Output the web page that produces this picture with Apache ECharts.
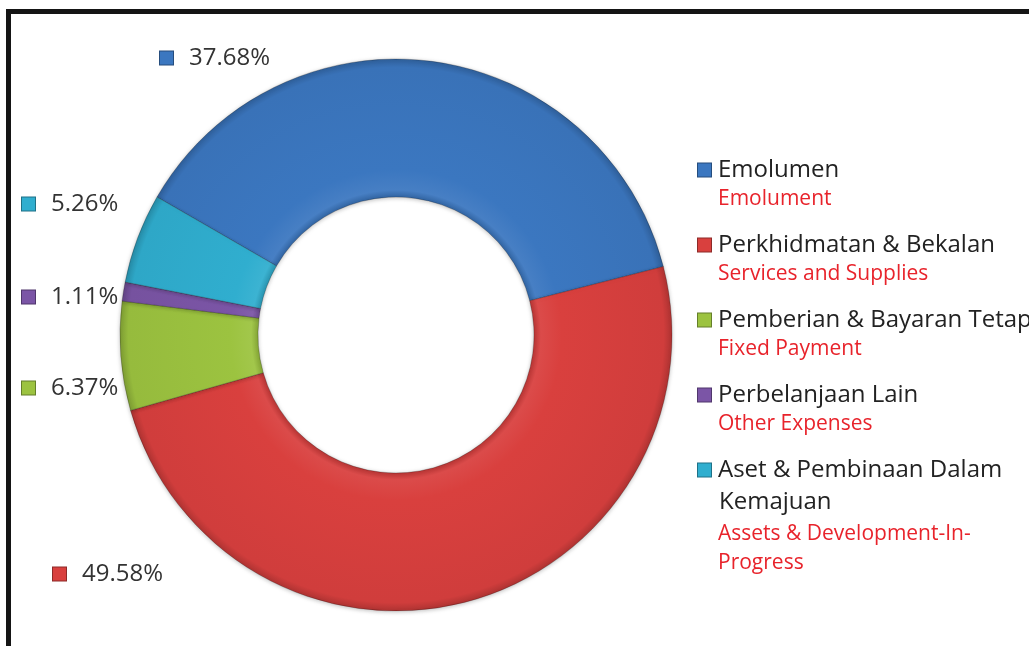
<!DOCTYPE html>
<html>
<head>
<meta charset="utf-8">
<style>
  html, body { margin: 0; padding: 0; background: #fff; }
  #chart { width: 1029px; height: 646px; }
</style>
<script src="https://cdn.jsdelivr.net/npm/echarts@6/dist/echarts.min.js"></script>
</head>
<body>
<div id="chart"></div>
<script>
// share of spending, percent
var categories = ['Emolumen', 'Perkhidmatan & Bekalan', 'Pemberian & Bayaran Tetap', 'Perbelanjaan Lain', 'Aset & Pembinaan Dalam Kemajuan']
var values = [37.68, 49.58, 6.37, 1.11, 5.26]
var malayLines = ['Emolumen', 'Perkhidmatan & Bekalan', 'Pemberian & Bayaran Tetap', 'Perbelanjaan Lain', 'Aset & Pembinaan Dalam\nKemajuan']
var englishLines = ['Emolument', 'Services and Supplies', 'Fixed Payment', 'Other Expenses', 'Assets & Development-In-\nProgress']
var colors = ['#3b77c0', '#d9403e', '#9cc340', '#7b55a6', '#30aecf']

// where each percentage label sits (label anchor, not the slice)
var labelSpots = [[160, 58], [53, 574], [22, 388], [22, 297], [22, 204]]

var font = '"Open Sans", "Noto Sans", sans-serif'
var cx = 396, cy = 335, rOut = 276, rIn = 138

// mix toward black (t > 0) or white (t < 0)
function shade(c, t) {
  var a = echarts.color.parse(c)
  var target = t > 0 ? 0 : 255
  var k = Math.abs(t)
  return 'rgb(' + [0, 1, 2].map(function(j) { return Math.round(a[j] + (target - a[j]) * k) }).join(',') + ')'
}

var iconRich = {}
colors.forEach(function(c, i) {
  iconRich['i' + i] = {
    width: 13,
    height: 13,
    backgroundColor: c,
    borderColor: shade(c, 0.35),
    borderWidth: 1
  }
})

var legendRich = Object.assign({}, iconRich, {
  m: { fontFamily: font, fontSize: 24, color: '#222', padding: [0, 0, 0, 7], lineHeight: 29 },
  mi: { fontFamily: font, fontSize: 24, color: '#222', padding: [0, 0, 0, 21], lineHeight: 35 },
  e: { fontFamily: font, fontSize: 21, color: '#e8232b', padding: [0, 0, 0, 20], lineHeight: 29 }
})

var labelRich = Object.assign({}, iconRich, {
  p: { fontFamily: font, fontSize: 24, color: '#333', padding: [0, 0, 0, 16] }
})

// soft bevel look for each ring piece
function ringShade(c) {
  var k = rIn / rOut
  return {
    type: 'radial', x: cx, y: cy, r: rOut, global: true,
    colorStops: [
      { offset: k, color: shade(c, 0.15) },
      { offset: k + 0.025, color: shade(c, -0.06) },
      { offset: 0.6, color: c },
      { offset: 0.97, color: shade(c, 0.04) },
      { offset: 1, color: shade(c, 0.2) }
    ]
  }
}

var chart = echarts.init(document.getElementById('chart'))
chart.setOption({
  animation: false,
  backgroundColor: '#fff',
  color: colors,
  graphic: [{
    type: 'rect',
    shape: { x: 8.5, y: 11.5, width: 1100, height: 700 },
    style: { fill: 'none', stroke: '#151515', lineWidth: 5 },
    silent: true
  }],
  legend: {
    orient: 'vertical',
    left: 693,
    top: 158,
    padding: 0,
    itemGap: 23.5,
    icon: 'none',
    itemWidth: 0,
    itemHeight: 0,
    selectedMode: false,
    data: categories,
    formatter: function(name) {
      var i = categories.indexOf(name)
      var ml = malayLines[i].split('\n')
      var out = ['{i' + i + '|}{m|' + ml[0] + '}']
      for (var k = 1; k < ml.length; k++) out.push('{mi|' + ml[k] + '}')
      englishLines[i].split('\n').forEach(function(l) { out.push('{e|' + l + '}') })
      return out.join('\n')
    },
    textStyle: { rich: legendRich, padding: 0 }
  },
  series: [{
    type: 'pie',
    center: [cx, cy],
    radius: [rIn, rOut],
    startAngle: 150,
    clockwise: true,
    avoidLabelOverlap: false,
    itemStyle: {
      borderColor: 'rgba(0,0,0,0.22)',
      borderWidth: 1,
      shadowColor: 'rgba(0,0,0,0.25)',
      shadowBlur: 4,
      shadowOffsetY: 1
    },
    label: {
      show: true,
      position: 'outside',
      formatter: function(p) {
        return '{i' + p.dataIndex + '|}{p|' + p.value.toFixed(2) + '%}'
      },
      rich: labelRich
    },
    labelLine: { show: false },
    labelLayout: function(p) {
      var s = labelSpots[p.dataIndex]
      return { x: s[0], y: s[1], align: 'left', verticalAlign: 'middle' }
    },
    emphasis: { disabled: true },
    data: categories.map(function(n, i) {
      return { name: n, value: values[i], itemStyle: { color: ringShade(colors[i]) } }
    })
  }]
})
</script>
</body>
</html>
